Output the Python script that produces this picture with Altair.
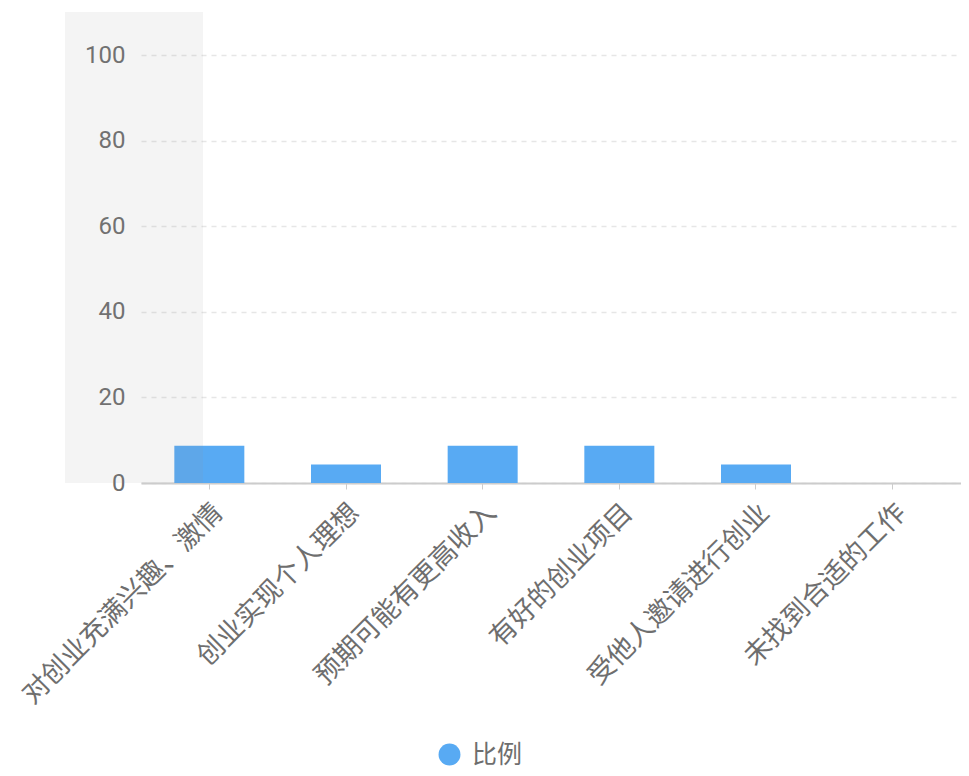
import altair as alt
import pandas as pd

categories = ["对创业充满兴趣、激情", "创业实现个人理想", "预期可能有更高收入",
              "有好的创业项目", "受他人邀请进行创业", "未找到合适的工作"]
values = [8.7, 4.35, 8.7, 8.7, 4.35, 0]
series_name = "比例"
y_ticks = [0, 20, 40, 60, 80, 100]

df = pd.DataFrame({"cat": categories, "val": values, "series": [series_name] * len(categories)})

FONT = "Noto Sans CJK SC"
TXT = "#6e6e6e"
BLUE = "#58aaf3"

base = alt.Chart(df)

bars = base.mark_bar(size=70).encode(
    x=alt.X("cat:N", sort=categories, title=None,
            scale=alt.Scale(paddingInner=0.5, paddingOuter=0.25),
            axis=alt.Axis(labelAngle=-45, labelFontSize=27, labelFont=FONT, labelColor=TXT,
                          domainColor="#cccccc", domainWidth=2, tickColor="#cccccc",
                          tickSize=6, labelPadding=10, grid=False, labelLimit=400)),
    y=alt.Y("val:Q", title=None,
            scale=alt.Scale(domain=[0, 100], nice=False),
            axis=alt.Axis(values=y_ticks, labelFontSize=24, labelFont="Roboto", labelColor=TXT,
                          domain=False, ticks=False, labelPadding=16,
                          gridDash=[5, 5], gridColor="#e6e6e6", gridWidth=1.5)),
    color=alt.Color("series:N", title=None,
                    scale=alt.Scale(range=[BLUE]),
                    legend=alt.Legend(orient="none", legendX=296, legendY=687,
                                      symbolType="circle", symbolSize=480,
                                      symbolStrokeWidth=0,
                                      labelFontSize=25, labelFont=FONT, labelColor=TXT,
                                      labelOffset=10)),
)

shadow = base.transform_filter(alt.datum.cat == categories[0]).mark_rect(
    color="#969696", opacity=0.1
).encode(
    x=alt.value(-76), x2=alt.value(62), y=alt.value(-43), y2=alt.value(428)
)

chart = alt.layer(bars, shadow).properties(
    width=820, height=428,
    autosize="none",
    padding={"left": 133, "top": 47, "right": 0, "bottom": 285},
).configure_view(stroke=None)

chart.save("out.html", embed_options={"renderer": "svg", "actions": False})
